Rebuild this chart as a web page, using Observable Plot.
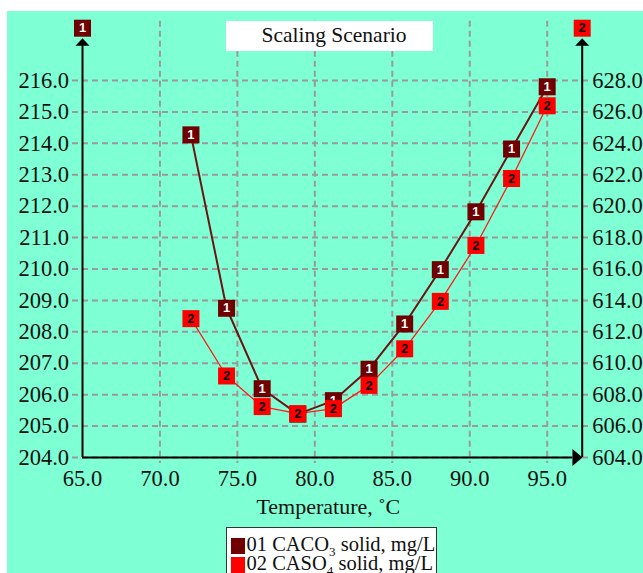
<!DOCTYPE html>
<html>
<head>
<meta charset="utf-8">
<script src="https://cdn.jsdelivr.net/npm/d3@7"></script>
<script src="https://cdn.jsdelivr.net/npm/@observablehq/plot@0.6"></script>
<style>
  body { margin: 0; background: #fff; }
  #wrap { position: absolute; left: 7px; top: 11px; width: 636px; height: 562px; background: #7fffd4; overflow: hidden;
          font-family: "Liberation Serif", "Times New Roman", serif; color: #111; }
  #chart { position: absolute; left: 0; top: 0; }
  #title { position: absolute; left: 219px; top: 10px; width: 207px; height: 30px; background: #fff; box-sizing: border-box;
           padding-left: 9px; text-align: center; font-size: 21.5px; line-height: 28px; }
  #legend { position: absolute; left: 219px; top: 515.7px; width: 211px; height: 70px; background: #fff; border: 1px solid #333;
            box-sizing: border-box; padding-top: 7px; font-size: 20.5px; line-height: 19.5px; white-space: nowrap; }
  #legend .sw { display: inline-block; width: 14px; height: 16px; margin-left: 3.5px; margin-right: 2px; vertical-align: -3px; }
  #legend sub { font-size: 13px; vertical-align: -5px; line-height: 0; }
</style>
</head>
<body>
<div id="wrap">
  <div id="chart"></div>
  <div id="title">Scaling Scenario</div>
  <div id="legend">
    <div><span class="sw" style="background:#700000"></span>01 CACO<sub>3</sub> solid, mg/L</div>
    <div><span class="sw" style="background:#ff0000"></span>02 CASO<sub>4</sub> solid, mg/L</div>
  </div>
</div>
<script>
// ---- data ----
const temperature = [72.0, 74.3, 76.6, 78.9, 81.2, 83.5, 85.8, 88.1, 90.4, 92.7, 95.0];
const caco3 = [214.27, 208.75, 206.19, 205.38, 205.81, 206.81, 208.25, 209.98, 211.82, 213.82, 215.80];
const caso4 = [612.84, 609.19, 607.24, 606.79, 607.11, 608.59, 610.92, 613.94, 617.50, 621.76, 626.39];
const xTicks = [65, 70, 75, 80, 85, 90, 95];
const yTicksLeft = [204, 205, 206, 207, 208, 209, 210, 211, 212, 213, 214, 215, 216];
const yTicksRight = [604, 606, 608, 610, 612, 614, 616, 618, 620, 622, 624, 626, 628];
const xLabel = "Temperature, ˚C";

// ---- axis geometry (in data units) ----
const xMin = 65, xEnd = 97.26, xArrowBase = 96.63;
const yMin = 204, yMax = 216, yAxisTop = 217.11, yBadge = 217.665;
const toLeft = v => yMin + (v - yTicksRight[0]) * (yTicksLeft.length - 1) / (yTicksRight[yTicksRight.length - 1] - yTicksRight[0]);
const toRight = d => yTicksRight[0] + (d - yMin) * (yTicksRight[yTicksRight.length - 1] - yTicksRight[0]) / (yTicksLeft.length - 1);

const rows = temperature.map((t, i) => ({t, v1: caco3[i], v2: toLeft(caso4[i])}));

const serif = '"Liberation Serif", "Times New Roman", serif';
const sans = '"Liberation Sans", Arial, sans-serif';
const gridColor = "#9a9a9a";
const c1 = "#700000", c1line = "#6b1414", c2 = "#ff0000", c2line = "#ff1a1a";
const tickFont = 22.5;

const box = {draw(ctx) { ctx.rect(-8.5, -8.5, 17, 17); }};
const upArrow = {draw(ctx) { ctx.moveTo(-7, 0); ctx.lineTo(7, 0); ctx.lineTo(0, -7.5); ctx.closePath(); }};
const rightArrow = {draw(ctx) { ctx.moveTo(0, -8.5); ctx.lineTo(0, 8.5); ctx.lineTo(10, 0); ctx.closePath(); }};

const chart = Plot.plot({
  width: 636, height: 562,
  marginLeft: 75, marginRight: 61.3, marginTop: 69, marginBottom: 116,
  style: {background: "transparent", fontFamily: serif, fontSize: tickFont + "px", color: "#111", overflow: "visible"},
  x: {domain: [xMin, xEnd], axis: null},
  y: {domain: [yMin, yMax], axis: null},
  marks: [
    Plot.ruleY(yTicksLeft, {stroke: gridColor, strokeWidth: 2, strokeDasharray: "6,4", insetLeft: -10, insetRight: -9}),
    Plot.ruleX(xTicks.slice(1), {stroke: gridColor, strokeWidth: 2, strokeDasharray: "6,4", insetTop: -59.3, insetBottom: -6}),
    Plot.ruleX([xMin, xEnd], {y1: yMin, y2: yAxisTop, stroke: "#000", strokeWidth: 2}),
    Plot.ruleY([yMin], {x1: xMin, x2: xArrowBase, stroke: "#000", strokeWidth: 2}),
    Plot.dot([xMin, xEnd], {x: d => d, y: () => yAxisTop, symbol: upArrow, fill: "#000", r: 5}),
    Plot.dot([xArrowBase], {x: d => d, y: () => yMin, symbol: rightArrow, fill: "#000", r: 5}),
    Plot.axisY(yTicksLeft, {anchor: "left", tickSize: 0, tickPadding: 13.5, tickFormat: d => d.toFixed(1), label: null, fontSize: tickFont, fill: "#111"}),
    Plot.axisY(yTicksLeft, {anchor: "right", tickSize: 0, tickPadding: 10, tickFormat: d => toRight(d).toFixed(1), label: null, fontSize: tickFont, fill: "#111"}),
    Plot.axisX(xTicks, {anchor: "bottom", tickSize: 0, tickPadding: 13, tickFormat: d => d.toFixed(1), label: null, fontSize: tickFont, fill: "#111"}),
    Plot.text([xLabel], {frameAnchor: "bottom", lineAnchor: "middle", dy: 49, dx: -4, text: d => d, fontSize: 22, fill: "#111"}),
    // series lines
    Plot.line(rows, {x: "t", y: "v1", stroke: c1line, strokeWidth: 2}),
    Plot.line(rows, {x: "t", y: "v2", stroke: c2line, strokeWidth: 1.3}),
    // series markers
    Plot.dot(rows, {x: "t", y: "v1", symbol: box, fill: c1, r: 5}),
    Plot.text(rows, {x: "t", y: "v1", text: () => "1", fill: "#fff", fontWeight: "bold", fontSize: 13, fontFamily: sans}),
    Plot.dot(rows, {x: "t", y: "v2", symbol: box, fill: c2, r: 5}),
    Plot.text(rows, {x: "t", y: "v2", text: () => "2", fill: "#000", fontWeight: "bold", fontSize: 13, fontFamily: sans}),
    // axis badges
    Plot.dot([{x: xMin, s: "1"}, {x: xEnd, s: "2"}], {x: "x", y: () => yBadge, symbol: box, fill: d => d.s === "1" ? c1 : c2, r: 5}),
    Plot.text([{x: xMin, s: "1"}, {x: xEnd, s: "2"}], {x: "x", y: () => yBadge, text: "s", fill: d => d.s === "1" ? "#fff" : "#000", fontWeight: "bold", fontSize: 13, fontFamily: sans})
  ]
});
document.getElementById("chart").appendChild(chart);
</script>
</body>
</html>
